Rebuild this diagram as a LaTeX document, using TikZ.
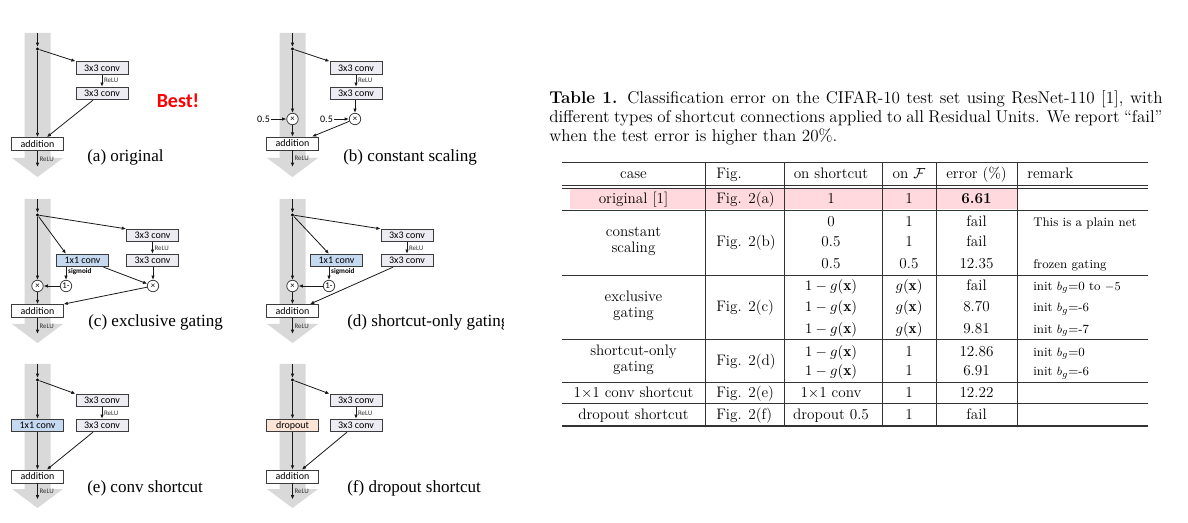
\documentclass[tikz,border=0pt]{standalone}
\usepackage{fontspec}
\usepackage{amsmath}
\usetikzlibrary{arrows.meta,positioning}
\newfontfamily\diafont{Carlito}
\newfontfamily\capfont{Liberation Serif}
\definecolor{convfill}{RGB}{237,236,243}
\definecolor{gatefill}{RGB}{197,217,241}
\definecolor{dropfill}{RGB}{252,228,214}
\definecolor{shaftgray}{RGB}{217,217,217}
\definecolor{boxline}{RGB}{60,60,60}
\definecolor{pinkrow}{RGB}{255,217,221}

\begin{document}
\begin{tikzpicture}[x=0.75pt, y=-0.75pt,
  box/.style={draw=boxline, line width=0.6pt, inner sep=0pt, minimum width=39pt, minimum height=9.4pt, font=\diafont\fontsize{7.5}{8}\selectfont},
  conv/.style={box, fill=convfill},
  gate/.style={box, fill=gatefill},
  drop/.style={box, fill=dropfill},
  addbox/.style={box, fill=white, minimum width=38.5pt, minimum height=9.7pt},
  op/.style={circle, draw=boxline, line width=0.6pt, fill=white, inner sep=0pt, minimum size=8.6pt, font=\diafont\fontsize{6.5}{7}\selectfont},
  junc/.style={circle, fill=black, inner sep=0pt, minimum size=2.6pt},
  relu/.style={right, inner sep=1.2pt, font=\diafont\fontsize{5.2}{6}\selectfont, text=black!80},
  sig/.style={anchor=north west, inner sep=0.6pt, font=\diafont\bfseries\fontsize{5.4}{6}\selectfont},
  num/.style={inner sep=1pt, font=\diafont\fontsize{7.5}{8}\selectfont},
  arrow/.style={-{Latex[length=3.2pt, width=2.6pt]}, line width=0.6pt, draw=black!90},
  capt/.style={anchor=west, inner sep=0pt, font=\capfont\fontsize{12.8}{14}\selectfont},
  cell/.style={anchor=base, inner sep=0pt, font=\fontsize{11.4}{12}\selectfont},
  note/.style={anchor=base west, inner sep=0pt, font=\fontsize{9.4}{10}\selectfont},
  rule/.style={line width=0.5pt, draw=black!80}
]
\path[use as bounding box, fill=white] (0,0) rectangle (1188,523);

% gray shortcut arrows behind each unit
\foreach \px/\py in {37.5/49, 292.5/49, 37.5/215, 292.5/215, 37.5/380, 292.5/380}
  \fill[shaftgray, shift={(\px,\py)}] (-13,-16) -- (13,-16) -- (13,109) -- (25.5,109)
    -- (0,128) -- (-25.5,109) -- (-13,109) -- cycle;

% (a) original
\begin{scope}[shift={(37.5,49)}]
  \coordinate (a-in) at (0,-16);
  \node[junc] (a-j) at (0,0) {};
  \node[conv] (a-c1) at (64.5,19) {3x3 conv};
  \node[conv] (a-c2) at (64.5,44.5) {3x3 conv};
  \node[addbox] (a-add) at (0,95) {addition};
  \coordinate (a-out) at (0,118);
  \draw[arrow] (a-in) -- (a-j);
  \draw[arrow] (a-j) -- (a-c1.north west);
  \draw[arrow] (a-c1) -- node[relu] {ReLU} (a-c2);
  \draw[arrow] ([xshift=-6.75pt]a-c2.south) -- ([xshift=7pt]a-add.north);
  \draw[arrow] (a-j) -- (a-add);
  \draw[arrow] (a-add) -- node[relu] {ReLU} (a-out);
\end{scope}
\node[text=red, font=\diafont\bfseries\fontsize{15}{16}\selectfont] (best) at (178,101) {Best!};
\node[capt] (a-cap) at (87,157) {(a) original};

% (b) constant scaling
\begin{scope}[shift={(292.5,49)}]
  \coordinate (b-in) at (0,-16);
  \node[junc] (b-j) at (0,0) {};
  \node[conv] (b-c1) at (63.5,19) {3x3 conv};
  \node[conv] (b-c2) at (63.5,44.5) {3x3 conv};
  \node[op] (b-ml) at (0,70) {×};
  \node[op] (b-mr) at (62.5,70) {×};
  \node[num] (b-hl) at (-29,70) {0.5};
  \node[num] (b-hr) at (34,70) {0.5};
  \node[addbox] (b-add) at (0,94.5) {addition};
  \coordinate (b-out) at (0,118);
  \draw[arrow] (b-in) -- (b-j);
  \draw[arrow] (b-j) -- (b-c1.north west);
  \draw[arrow] (b-c1) -- node[relu] {ReLU} (b-c2);
  \draw[arrow] (b-c2.south -| b-mr) -- (b-mr);
  \draw[arrow] (b-hl) -- (b-ml);
  \draw[arrow] (b-hr) -- (b-mr);
  \draw[arrow] (b-j) -- (b-ml);
  \draw[arrow] (b-ml) -- (b-add);
  \draw[arrow] (b-mr) -- ([xshift=14.6pt]b-add.north);
  \draw[arrow] (b-add) -- node[relu] {ReLU} (b-out);
\end{scope}
\node[capt] (b-cap) at (343,157) {(b) constant scaling};

% (c) exclusive gating
\begin{scope}[shift={(37.5,215)}]
  \coordinate (c-in) at (0,-16);
  \node[junc] (c-j) at (0,0) {};
  \node[conv] (c-c1) at (115,20.5) {3x3 conv};
  \node[conv] (c-c2) at (115,45.5) {3x3 conv};
  \node[gate] (c-g) at (45,45.5) {1x1 conv};
  \node[op] (c-om) at (28.5,71) {1-};
  \node[op] (c-ml) at (0,71) {×};
  \node[op] (c-mr) at (115.5,71) {×};
  \node[addbox] (c-add) at (0,96) {addition};
  \coordinate (c-out) at (0,119);
  \draw[arrow] (c-in) -- (c-j);
  \draw[arrow] (c-j) -- (c-c1.north west);
  \draw[arrow] (c-j) -- (c-g.north -| c-om);
  \draw[arrow] (c-c1) -- node[relu] {ReLU} (c-c2);
  \draw[arrow] (c-g.south -| c-om) -- (c-om);
  \node[sig] (c-sig) at ([xshift=0.8pt]c-g.south -| c-om) {sigmoid};
  \draw[arrow] (c-om) -- (c-ml);
  \draw[arrow] ([xshift=-4pt]c-g.south east) -- (c-mr);
  \draw[arrow] (c-c2.south -| c-mr) -- (c-mr);
  \draw[arrow] (c-j) -- (c-ml);
  \draw[arrow] (c-ml) -- (c-add);
  \draw[arrow] (c-mr) -- (c-add.north east);
  \draw[arrow] (c-add) -- node[relu] {ReLU} (c-out);
\end{scope}
\node[capt] (c-cap) at (88,322) {(c) exclusive gating};

% (d) shortcut-only gating
\begin{scope}[shift={(292.5,215)}]
  \coordinate (d-in) at (0,-16);
  \node[junc] (d-j) at (0,0) {};
  \node[conv] (d-c1) at (114.5,20.5) {3x3 conv};
  \node[conv] (d-c2) at (114.5,45.5) {3x3 conv};
  \node[gate] (d-g) at (44,45.5) {1x1 conv};
  \node[op] (d-om) at (36.5,71) {1-};
  \node[op] (d-ml) at (0,71) {×};
  \node[addbox] (d-add) at (0,96) {addition};
  \coordinate (d-out) at (0,119);
  \draw[arrow] (d-in) -- (d-j);
  \draw[arrow] (d-j) -- (d-c1.north west);
  \draw[arrow] (d-j) -- (d-g.north -| d-om);
  \draw[arrow] (d-c1) -- node[relu] {ReLU} (d-c2);
  \draw[arrow] (d-g.south -| d-om) -- (d-om);
  \node[sig] (d-sig) at ([xshift=0.8pt]d-g.south -| d-om) {sigmoid};
  \draw[arrow] (d-om) -- (d-ml);
  \draw[arrow] (d-j) -- (d-ml);
  \draw[arrow] (d-ml) -- (d-add);
  \draw[arrow] ([xshift=-10.5pt]d-c2.south) -- ([xshift=13.1pt]d-add.north);
  \draw[arrow] (d-add) -- node[relu] {ReLU} (d-out);
\end{scope}
\begin{scope}
  \clip (330,300) rectangle (503,345);
  \node[capt] (d-cap) at (347,322) {(d) shortcut-only gating};
\end{scope}

% (e) conv shortcut
\begin{scope}[shift={(37.5,380)}]
  \coordinate (e-in) at (0,-16);
  \node[junc] (e-j) at (0,0) {};
  \node[conv] (e-c1) at (64.5,20.5) {3x3 conv};
  \node[conv] (e-c2) at (64.5,45.5) {3x3 conv};
  \node[gate] (e-g) at (0,45.5) {1x1 conv};
  \node[addbox] (e-add) at (0,96.5) {addition};
  \coordinate (e-out) at (0,119.5);
  \draw[arrow] (e-in) -- (e-j);
  \draw[arrow] (e-j) -- (e-c1.north west);
  \draw[arrow] (e-c1) -- node[relu] {ReLU} (e-c2);
  \draw[arrow] (e-j) -- (e-g);
  \draw[arrow] (e-g) -- (e-add);
  \draw[arrow] ([xshift=-6.75pt]e-c2.south) -- ([xshift=7pt]e-add.north);
  \draw[arrow] (e-add) -- node[relu] {ReLU} (e-out);
\end{scope}
\node[capt] (e-cap) at (87,488) {(e) conv shortcut};

% (f) dropout shortcut
\begin{scope}[shift={(292.5,380)}]
  \coordinate (f-in) at (0,-16);
  \node[junc] (f-j) at (0,0) {};
  \node[conv] (f-c1) at (63.5,20.5) {3x3 conv};
  \node[conv] (f-c2) at (63.5,45.5) {3x3 conv};
  \node[drop] (f-dp) at (0,45.5) {dropout};
  \node[addbox] (f-add) at (0,96.5) {addition};
  \coordinate (f-out) at (0,119.5);
  \draw[arrow] (f-in) -- (f-j);
  \draw[arrow] (f-j) -- (f-c1.north west);
  \draw[arrow] (f-c1) -- node[relu] {ReLU} (f-c2);
  \draw[arrow] (f-j) -- (f-dp);
  \draw[arrow] (f-dp) -- (f-add);
  \draw[arrow] ([xshift=-6.75pt]f-c2.south) -- ([xshift=7pt]f-add.north);
  \draw[arrow] (f-add) -- node[relu] {ReLU} (f-out);
\end{scope}
\node[capt] (f-cap) at (347,488) {(f) dropout shortcut};

% table caption
\node[anchor=north west, inner sep=0pt, text width=460pt, align=justify,
  font=\fontsize{12.8}{14.6}\selectfont] (title) at (549,90)
  {\textbf{Table 1.} Classification error on the CIFAR-10 test set using ResNet-110 [1], with\linebreak
   different types of shortcut connections applied to all Residual Units. We report ``fail''\linebreak
   when the test error is higher than 20\%.};

% table rules
\fill[pinkrow] (570,189) rectangle (1017,209.5);
\draw[rule, line width=0.8pt] (562,162.7) -- (1148,162.7);
\draw[rule] (562,185.7) -- (1148,185.7);
\draw[rule] (562,188.3) -- (1148,188.3);
\foreach \ry in {210,275,339,382,403.5}
  \draw[rule] (562,\ry) -- (1148,\ry);
\draw[rule, line width=0.8pt] (562,426) -- (1148,426);
\foreach \rx in {705,784,882,936,1017}
  \draw[rule] (\rx,162.7) -- (\rx,426);

% header
\node[cell] (h-case) at (633.5,179) {case};
\node[cell, anchor=base west] (h-fig) at (716,179) {Fig.};
\node[cell] (h-sc) at (831,179) {on shortcut};
\node[cell] (h-f) at (909,179) {on $\mathcal{F}$};
\node[cell] (h-err) at (976.5,179) {error (\%)};
\node[cell, anchor=base west] (h-rem) at (1027,179) {remark};

% case and figure columns
\node[cell] (k-a) at (633.5,204) {original [1]};
\node[cell, anchor=center, align=center] (k-b) at (633.5,241) {constant\\scaling};
\node[cell, anchor=center, align=center] (k-c) at (633.5,306) {exclusive\\gating};
\node[cell, anchor=center, align=center] (k-d) at (633.5,360) {shortcut-only\\gating};
\node[cell] (k-e) at (633.5,397.5) {1$\times$1 conv shortcut};
\node[cell] (k-f) at (633.5,420) {dropout shortcut};
\foreach \fy/\fl in {204/a, 247/b, 312/c, 366/d, 397.5/e, 420/f}
  \node[cell, anchor=base west] (fig-\fl) at (716,\fy) {Fig. 2(\fl)};

% values
\foreach \ry/\vs/\vf/\ve/\vr [count=\i] in {
    204/1/1/\textbf{6.61}/{},
    226.5/0/1/fail/This is a plain net,
    247/0.5/1/fail/{},
    268.5/0.5/0.5/12.35/frozen gating,
    290.5/$1-g(\mathbf{x})$/$g(\mathbf{x})$/fail/{init $b_g$=0 to $-5$},
    312/$1-g(\mathbf{x})$/$g(\mathbf{x})$/8.70/{init $b_g$=-6},
    333.5/$1-g(\mathbf{x})$/$g(\mathbf{x})$/9.81/{init $b_g$=-7},
    356.5/$1-g(\mathbf{x})$/1/12.86/{init $b_g$=0},
    376/$1-g(\mathbf{x})$/1/6.91/{init $b_g$=-6},
    397.5/1$\times$1 conv/1/12.22/{},
    420/dropout 0.5/1/fail/{}}
{
  \node[cell] (s\i) at (831,\ry) {\vs};
  \node[cell] (o\i) at (909,\ry) {\vf};
  \node[cell] (e\i) at (976.5,\ry) {\ve};
  \node[note] (n\i) at (1033,\ry) {\vr};
}
\end{tikzpicture}
\end{document}
